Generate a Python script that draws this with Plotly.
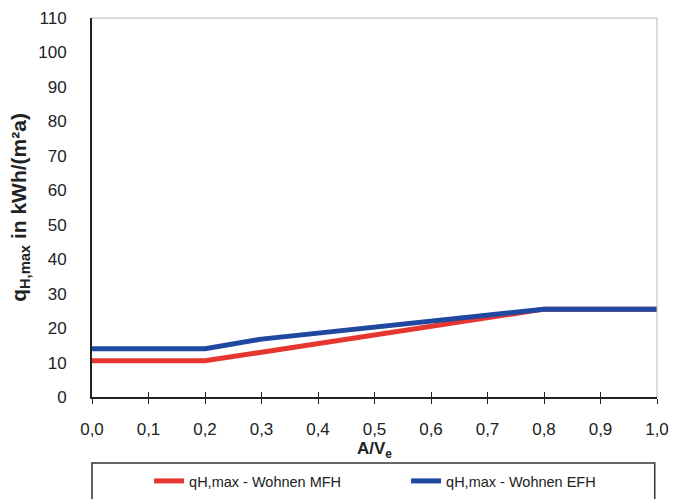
import plotly.graph_objects as go

# A/V_e ratio and maximum heating demand per building type
av_ratio = [0.0, 0.1, 0.2, 0.3, 0.4, 0.5, 0.6, 0.7, 0.8, 0.9, 1.0]
q_mfh = [10.5, 10.5, 10.5, 13.0, 15.5, 18.0, 20.5, 23.0, 25.5, 25.5, 25.5]
q_efh = [14.0, 14.0, 14.0, 16.8, 18.5, 20.5, 22.0, 23.8, 25.5, 25.5, 25.5]

x_ticks = [0.0, 0.1, 0.2, 0.3, 0.4, 0.5, 0.6, 0.7, 0.8, 0.9, 1.0]
x_tick_text = ["0,0", "0,1", "0,2", "0,3", "0,4", "0,5", "0,6", "0,7", "0,8", "0,9", "1,0"]
y_ticks = list(range(0, 111, 10))

font_family = "Liberation Sans, Arial, sans-serif"
ink = "#222222"

fig = go.Figure()
fig.add_trace(go.Scatter(x=av_ratio, y=q_mfh, mode="lines",
                         name="qH,max - Wohnen MFH",
                         line=dict(color="#e6362f", width=5)))
fig.add_trace(go.Scatter(x=av_ratio, y=q_efh, mode="lines",
                         name="qH,max - Wohnen EFH",
                         line=dict(color="#1f48a0", width=5)))

fig.update_layout(
    width=678, height=499,
    margin=dict(l=92, r=21, t=18, b=102, autoexpand=False),
    paper_bgcolor="white", plot_bgcolor="white",
    font=dict(family=font_family, color=ink, size=17),
    showlegend=True,
    legend=dict(orientation="h", x=0.101, xanchor="left", y=-0.2216, yanchor="middle",
                entrywidth=212, font=dict(size=14.5, color=ink),
                bgcolor="rgba(0,0,0,0)", borderwidth=0),
    xaxis=dict(range=[0, 1], tickvals=x_ticks, ticktext=x_tick_text,
               showgrid=False, zeroline=False, showline=True, linecolor=ink,
               linewidth=2, ticks="outside", ticklen=5, tickcolor=ink,
               ticklabelstandoff=11, automargin=False,
               tickfont=dict(size=17),
               title=dict(text="<b>A/V<sub>e</sub></b>", font=dict(size=17), standoff=0)),
    yaxis=dict(range=[0, 110], tickvals=y_ticks, showgrid=False, zeroline=False,
               showline=True, linecolor=ink, linewidth=2, ticks="",
               ticklabelstandoff=20, automargin=False,
               tickfont=dict(size=17),
               title=dict(text="<b>q<sub>H,max</sub> in kWh/(m²a)</b>", font=dict(size=21),
                          standoff=6)),
    xaxis2=dict(range=[0, 1], overlaying="x", tickvals=x_ticks, showticklabels=False,
                ticks="inside", ticklen=5, tickcolor=ink, showgrid=False,
                zeroline=False, showline=False, side="bottom", anchor="y"),
)

# Light frame on top and right of the plot area
fig.add_shape(type="line", xref="paper", yref="paper", x0=0, x1=1, y0=1, y1=1,
              line=dict(color="#b8b8b8", width=1))
fig.add_shape(type="line", xref="paper", yref="paper", x0=1, x1=1, y0=0, y1=1,
              line=dict(color="#b8b8b8", width=1))
# Legend box
fig.add_shape(type="rect", xref="paper", yref="paper", x0=0, x1=0.996, y0=-0.174, y1=-0.3,
              line=dict(color="#333333", width=1.5))

# Empty trace on the overlay axis carrying the inner tick halves
fig.add_trace(go.Scatter(x=[0, 1], y=[None, None], xaxis="x2", showlegend=False,
                         hoverinfo="skip"))

fig.write_html("out.html")
